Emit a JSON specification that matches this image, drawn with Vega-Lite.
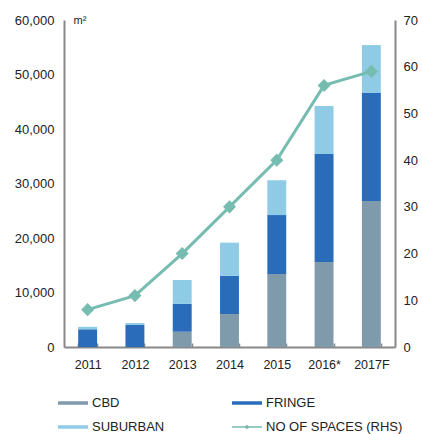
{
  "$schema": "https://vega.github.io/schema/vega-lite/v6.json",
  "width": 331,
  "height": 327,
  "autosize": {"type": "none"},
  "padding": {"left": 64, "top": 20, "right": 27, "bottom": 87},
  "config": {
    "view": {"stroke": null},
    "font": "Liberation Sans",
    "axis": {"labelFont": "Liberation Sans", "labelColor": "#222", "domainColor": "#888", "domainWidth": 2, "grid": false}
  },
  "datasets": {
    "area": [
      {"year": "2011", "type": "CBD", "value": 0},
      {"year": "2011", "type": "FRINGE", "value": 3250},
      {"year": "2011", "type": "SUBURBAN", "value": 450},
      {"year": "2012", "type": "CBD", "value": 0},
      {"year": "2012", "type": "FRINGE", "value": 4050},
      {"year": "2012", "type": "SUBURBAN", "value": 350},
      {"year": "2013", "type": "CBD", "value": 2800},
      {"year": "2013", "type": "FRINGE", "value": 5100},
      {"year": "2013", "type": "SUBURBAN", "value": 4400},
      {"year": "2014", "type": "CBD", "value": 6050},
      {"year": "2014", "type": "FRINGE", "value": 7000},
      {"year": "2014", "type": "SUBURBAN", "value": 6100},
      {"year": "2015", "type": "CBD", "value": 13400},
      {"year": "2015", "type": "FRINGE", "value": 10800},
      {"year": "2015", "type": "SUBURBAN", "value": 6400},
      {"year": "2016*", "type": "CBD", "value": 15600},
      {"year": "2016*", "type": "FRINGE", "value": 19800},
      {"year": "2016*", "type": "SUBURBAN", "value": 8800},
      {"year": "2017F", "type": "CBD", "value": 26800},
      {"year": "2017F", "type": "FRINGE", "value": 19800},
      {"year": "2017F", "type": "SUBURBAN", "value": 8800}
    ],
    "spaces": [
      {"year": "2011", "spaces": 8},
      {"year": "2012", "spaces": 11},
      {"year": "2013", "spaces": 20},
      {"year": "2014", "spaces": 30},
      {"year": "2015", "spaces": 40},
      {"year": "2016*", "spaces": 56},
      {"year": "2017F", "spaces": 59}
    ]
  },
  "encoding": {
    "x": {
      "field": "year", "type": "nominal", "sort": null,
      "scale": {"paddingInner": 0.6, "paddingOuter": 0.3},
      "axis": {"title": null, "labelAngle": 0, "labelFontSize": 12.5, "labelPadding": 15, "tickBand": "extent", "ticks": true, "tickSize": -4, "tickColor": "#888", "tickWidth": 1.5}
    }
  },
  "layer": [
    {
      "data": {"name": "area"},
      "mark": {"type": "bar"},
      "encoding": {
        "y": {
          "field": "value", "type": "quantitative", "aggregate": "sum", "stack": "zero",
          "scale": {"domain": [0, 60000], "nice": false},
          "axis": {"title": "m²", "titleAngle": 0, "titleX": 9, "titleY": 0, "titleAlign": "left", "titleBaseline": "middle", "titleFontWeight": "normal", "titleFontSize": 11, "titleColor": "#222", "titleFont": "Liberation Sans", "values": [0, 10000, 20000, 30000, 40000, 50000, 60000], "labelOverlap": false, "format": ",d", "ticks": false, "labelFontSize": 13, "labelPadding": 10}
        },
        "order": {"field": "type", "sort": "ascending"},
        "color": {
          "field": "type", "type": "nominal",
          "scale": {"domain": ["CBD", "SUBURBAN", "FRINGE", "NO OF SPACES (RHS)"], "range": ["#7f9bab", "#90cbe6", "#2a6cb9", "#77bcb0"]},
          "legend": {
            "title": null, "orient": "none", "legendX": -6, "legendY": 368,
            "columns": 2, "columnPadding": 67, "rowPadding": 2,
            "symbolSize": 900, "labelOffset": 4, "labelFontSize": 13, "labelColor": "#222", "labelFont": "Liberation Sans",
            "encode": {
              "symbols": {
                "update": {
                  "shape": {"signal": "datum.label === 'NO OF SPACES (RHS)' ? 'M-1,-0.05H-0.13L0,-0.15L0.13,-0.05H1V0.05H0.13L0,0.15L-0.13,0.05H-1Z' : 'M-1,-0.117H1V0.117H-1Z'"},
                  "fill": {"signal": "scale('color', datum.value)"},
                  "stroke": {"value": "transparent"},
                  "strokeWidth": {"value": 0},
                  "opacity": {"value": 1}
                }
              }
            }
          }
        }
      }
    },
    {
      "data": {"name": "spaces"},
      "mark": {"type": "line", "strokeWidth": 3, "point": {"shape": "diamond", "size": 170, "filled": true, "color": "#77bcb0", "opacity": 1}},
      "encoding": {
        "y": {
          "field": "spaces", "type": "quantitative",
          "scale": {"domain": [0, 70], "nice": false},
          "axis": {"title": null, "orient": "right", "values": [0, 10, 20, 30, 40, 50, 60, 70], "ticks": false, "labelFontSize": 13, "labelPadding": 8}
        },
        "color": {"datum": "NO OF SPACES (RHS)"}
      }
    }
  ],
  "resolve": {"scale": {"y": "independent"}}
}
